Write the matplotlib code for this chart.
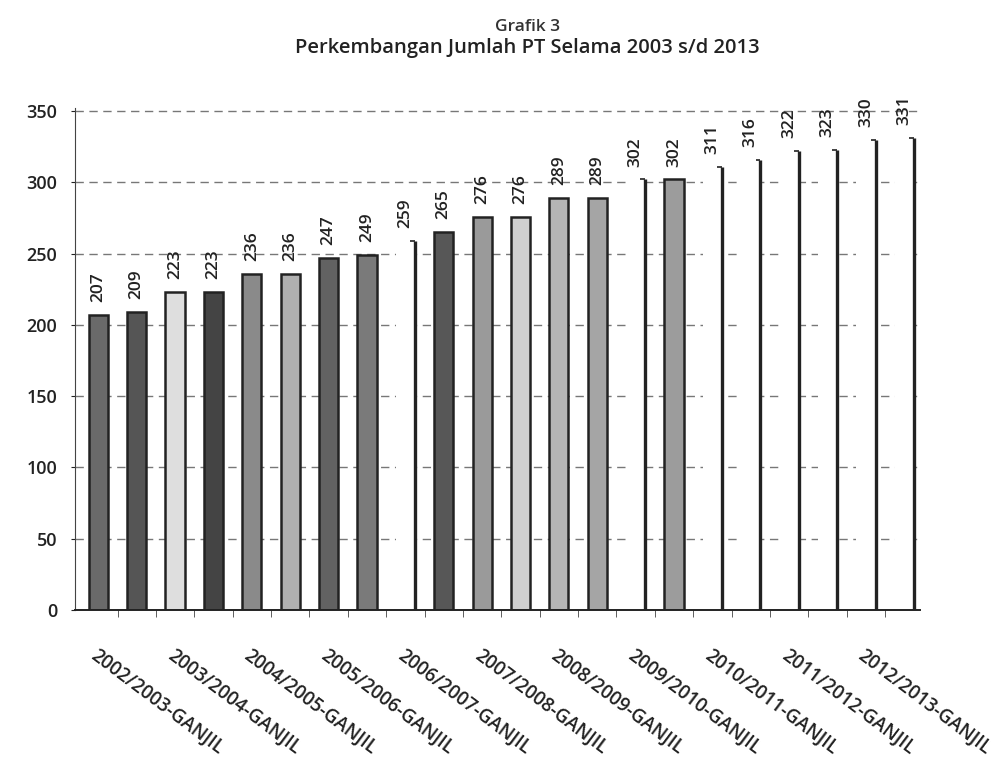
import matplotlib.pyplot as plt
import numpy as np

plt.rcParams['font.family'] = ['Open Sans', 'DejaVu Sans']

years = ['2002/2003', '2003/2004', '2004/2005', '2005/2006', '2006/2007', '2007/2008',
         '2008/2009', '2009/2010', '2010/2011', '2011/2012', '2012/2013']
semesters = ['GANJIL', 'GENAP']
categories = [y + '-' + s for y in years for s in semesters]
values = [207, 209, 223, 223, 236, 236, 247, 249, 259, 265, 276,
          276, 289, 289, 302, 302, 311, 316, 322, 323, 330, 331]

# bar fills (white = only an outline survived)
fills = ['#6a6a6a', '#555555', '#dedede', '#444444', '#8a8a8a', '#b0b0b0',
         '#626262', '#7a7a7a', 'white', '#575757', '#9a9a9a', '#cfcfcf',
         '#b5b5b5', '#a5a5a5', 'white', '#9c9c9c', 'white', 'white',
         'white', 'white', 'white', 'white']

fig = plt.figure(figsize=(10.04, 7.73), dpi=100)
ax = fig.add_axes([0.075, 0.211, 0.841, 0.649])

x = np.arange(len(categories))
w = 0.5
for xi, v, c in zip(x, values, fills):
    if c == 'white':
        ax.bar(xi, v, width=w, color='white', edgecolor='none', zorder=2)
        ax.vlines(xi + w / 2, 0, v, color='#222222', lw=2.4, zorder=3)
        ax.hlines(v, xi + w / 4, xi + w / 2, color='#222222', lw=1.2, zorder=3)
    else:
        ax.bar(xi, v, width=w, color=c, edgecolor='#222222', lw=1.8, zorder=2)
    ax.text(xi, v + 9, str(v), rotation=90, ha='center', va='bottom',
            fontsize=12.5, color='#222222', fontweight='semibold')

ax.set_xlim(-0.6, 21.4)
ax.set_ylim(0, 352)
ax.set_yticks(range(0, 351, 50))
ax.tick_params(axis='y', labelsize=13, length=3, pad=10, colors='#222222')
for t in ax.get_yticklabels():
    t.set_fontweight('semibold')
ax.yaxis.grid(True, linestyle=(0, (6, 4)), color='#777777', lw=1)
ax.set_axisbelow(True)

ax.set_xticks(x[::2])
ax.set_xticklabels(categories[::2], rotation=-37, ha='left', va='top',
                   rotation_mode='anchor', fontsize=13.5, color='#222222',
                   fontweight='semibold')
ax.set_xticks(x[:-1] + 0.5, minor=True)
ax.tick_params(axis='x', which='major', length=0, pad=26)
ax.tick_params(axis='x', which='minor', length=5, color='#444444')

for s in ['top', 'right']:
    ax.spines[s].set_visible(False)
ax.spines['left'].set_color('#444444')
ax.spines['bottom'].set_color('#222222')
ax.spines['bottom'].set_linewidth(1.4)

fig.text(0.525, 0.965, 'Grafik 3', ha='center', va='center', fontsize=12.5,
         color='#333333', fontweight='semibold')
fig.text(0.525, 0.938, 'Perkembangan Jumlah PT Selama 2003 s/d 2013', ha='center',
         va='center', fontsize=14.5, color='#222222', fontweight='semibold')

fig.savefig('out.png', dpi=100)
